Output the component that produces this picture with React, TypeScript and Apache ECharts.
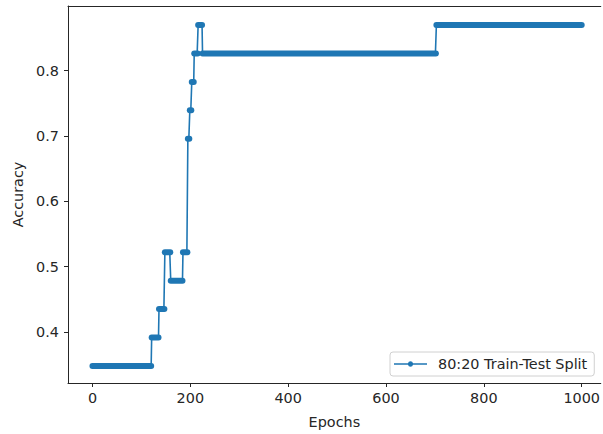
import React, { useEffect, useRef } from "react";
import * as echarts from "echarts";

// Accuracy per epoch as runs: value runValues[i] held from runStarts[i] to runEnds[i] (inclusive)
const runStarts = [0, 121, 136, 148, 160, 185, 195, 199, 203, 208, 216, 225, 703];
const runEnds = [120, 135, 147, 159, 184, 194, 198, 202, 207, 215, 224, 702, 1000];
const runValues = [0.3478, 0.3913, 0.4348, 0.5217, 0.4783, 0.5217, 0.6957, 0.7391, 0.7826, 0.8261, 0.8696, 0.8261, 0.8696];
const xTicks = [0, 200, 400, 600, 800, 1000];
const yTicks = [0.4, 0.5, 0.6, 0.7, 0.8];
const seriesName = "80:20 Train-Test Split";

function buildPoints(): [number, number][] {
  const pts: [number, number][] = [];
  for (let i = 0; i < runStarts.length; i++) {
    for (let e = runStarts[i]; e <= runEnds[i]; e += 1) {
      pts.push([e, runValues[i]]);
    }
  }
  return pts;
}

export default function App() {
  const ref = useRef<HTMLDivElement>(null);
  useEffect(() => {
    if (!ref.current) return;
    const chart = echarts.init(ref.current, null, { renderer: "svg" });
    const font = "DejaVu Sans";
    const fs = 14.4;
    const axisColor = "#262626";
    const blue = "#1f77b4";
    // thick bands: the overlapping per-epoch markers of each run
    const bandSeries = runStarts.map((s, i) => ({
      type: "line",
      xAxisIndex: 0,
      data: [
        [s, runValues[i]],
        [runEnds[i], runValues[i]],
      ],
      symbol: "none",
      lineStyle: { color: blue, width: 6, cap: "round" },
      silent: true,
      z: 2,
    }));
    // legend icon: line with a dot marker (33 x 6 box)
    const legendIcon =
      "path://M0,2.25L14,2.25A2.55,2.55,0,0,1,19,2.25L33,2.25L33,3.75L19,3.75A2.55,2.55,0,0,1,14,3.75L0,3.75Z";
    chart.setOption({
      animation: false,
      backgroundColor: "#ffffff",
      textStyle: { fontFamily: font },
      grid: { left: 68, top: 6, right: 0, bottom: 50 },
      legend: {
        data: [{ name: seriesName, icon: legendIcon }],
        left: 390,
        top: 352,
        orient: "horizontal",
        padding: [5, 7, 5, 4],
        itemWidth: 33,
        itemHeight: 6,
        borderColor: "#d0d0d0",
        borderWidth: 1,
        borderRadius: 3,
        backgroundColor: "#ffffff",
        itemStyle: { color: blue, borderWidth: 0 },
        textStyle: { fontFamily: font, fontSize: fs, color: axisColor, padding: [0, 0, 0, 6] },
      },
      xAxis: [
        {
          type: "value",
          min: -50,
          max: 1039,
          name: "Epochs",
          nameLocation: "middle",
          nameGap: 32,
          nameTextStyle: { fontFamily: font, fontSize: fs, color: axisColor },
          axisLine: { show: true, onZero: false, lineStyle: { color: axisColor, width: 1 } },
          axisTick: { show: true, length: 4, customValues: xTicks, lineStyle: { color: axisColor } },
          axisLabel: {
            customValues: xTicks,
            fontFamily: font,
            fontSize: fs,
            color: axisColor,
            margin: 8,
            formatter: (v: number) => String(v),
          },
          splitLine: { show: false },
        },
        {
          type: "value",
          position: "top",
          min: -50,
          max: 1039,
          axisLine: { show: true, onZero: false, lineStyle: { color: axisColor, width: 1 } },
          axisTick: { show: false },
          axisLabel: { show: false },
          splitLine: { show: false },
        },
      ],
      yAxis: {
        type: "value",
        min: 0.3217,
        max: 0.8988,
        name: "Accuracy",
        nameLocation: "middle",
        nameRotate: 90,
        nameGap: 43,
        nameTextStyle: { fontFamily: font, fontSize: fs, color: axisColor },
        axisLine: { show: true, onZero: false, lineStyle: { color: axisColor, width: 1 } },
        axisTick: { show: true, length: 4, customValues: yTicks, lineStyle: { color: axisColor } },
        axisLabel: {
          customValues: yTicks,
          fontFamily: font,
          fontSize: fs,
          color: axisColor,
          margin: 9,
          formatter: (v: number) => v.toFixed(1),
        },
        splitLine: { show: false },
      },
      series: [
        {
          name: seriesName,
          type: "line",
          xAxisIndex: 0,
          data: buildPoints(),
          color: blue,
          lineStyle: { color: blue, width: 1.6 },
          symbol: "none",
          itemStyle: { color: blue },
          emphasis: { disabled: true },
          z: 3,
        },
        ...bandSeries,
      ],
    });
    return () => chart.dispose();
  }, []);
  return (
    <div
      ref={ref}
      style={{ position: "fixed", left: 0, top: 0, width: 603, height: 434, background: "#fff" }}
    />
  );
}
